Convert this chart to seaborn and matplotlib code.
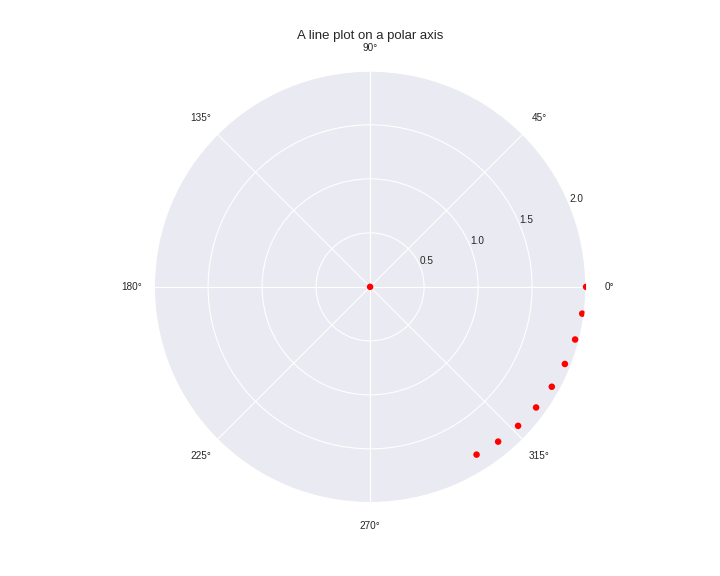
import numpy as np
import matplotlib
matplotlib.use("Agg")
import matplotlib.pyplot as plt
import seaborn as sns

# Data (radius and angle in degrees)
radius = [0.0, 1.84, 1.86, 1.88, 1.90, 1.92, 1.94, 1.96, 1.98, 2.0]
angle_deg = [0.0, -57.6, -50.4, -43.2, -36.0, -28.8, -21.6, -14.4, -7.2, 0.0]
title = "A line plot on a polar axis"

sns.set_theme(style="darkgrid")
plt.rcParams['font.family'] = ['Liberation Sans', 'DejaVu Sans']

fig = plt.figure(figsize=(7.2, 5.76), dpi=100)
ax = fig.add_axes([0.139, 0.127, 0.75, 0.75], projection="polar")

theta = np.deg2rad(angle_deg)
sns.scatterplot(x=theta, y=radius, ax=ax, color="red", s=22, edgecolor="none", zorder=3)
for coll in ax.collections:
    coll.set_clip_path(ax.patch)

ax.set_rmax(2.0)
ax.set_rticks([0.5, 1.0, 1.5, 2.0])
ax.set_rlabel_position(22.5)
ax.tick_params(labelsize=7.2, colors="#262626")
ax.grid(True, color="white", linewidth=0.8)
ax.set_title(title, fontsize=9.5, color="#262626", pad=3)
ax.set_xlabel("")
ax.set_ylabel("")

fig.savefig("out.png", dpi=100)
